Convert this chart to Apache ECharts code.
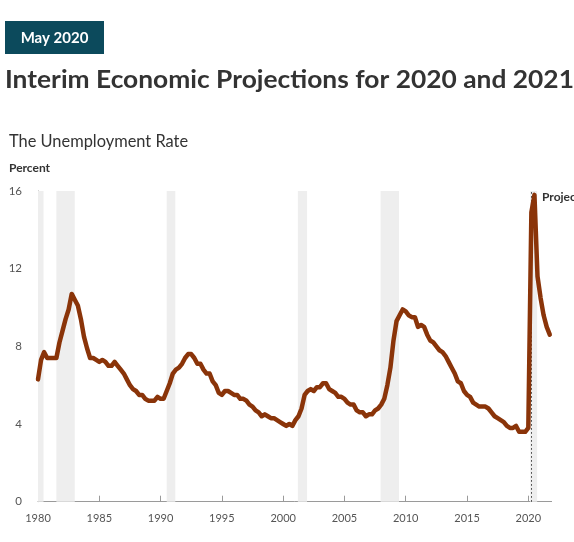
<!DOCTYPE html>
<html>
<head>
<meta charset="utf-8">
<script src="https://cdn.jsdelivr.net/npm/echarts@6/dist/echarts.min.js"></script>
<style>
html,body{margin:0;padding:0;background:#fff;}
#chart{width:574px;height:542px;}
</style>
</head>
<body>
<div id="chart"></div>
<script>
// Quarterly unemployment rate, percent, starting 1980 Q1
const startYear = 1980;
const historical = [
  6.3, 7.3, 7.7, 7.4,   // 1980
  7.4, 7.4, 7.4, 8.2,   // 1981
  8.8, 9.4, 9.9, 10.7,  // 1982
  10.4, 10.1, 9.4, 8.5, // 1983
  7.9, 7.4, 7.4, 7.3,   // 1984
  7.2, 7.3, 7.2, 7.0,   // 1985
  7.0, 7.2, 7.0, 6.8,   // 1986
  6.6, 6.3, 6.0, 5.8,   // 1987
  5.7, 5.5, 5.5, 5.3,   // 1988
  5.2, 5.2, 5.2, 5.4,   // 1989
  5.3, 5.3, 5.7, 6.1,   // 1990
  6.6, 6.8, 6.9, 7.1,   // 1991
  7.4, 7.6, 7.6, 7.4,   // 1992
  7.1, 7.1, 6.8, 6.6,   // 1993
  6.6, 6.2, 6.0, 5.6,   // 1994
  5.5, 5.7, 5.7, 5.6,   // 1995
  5.5, 5.5, 5.3, 5.3,   // 1996
  5.2, 5.0, 4.9, 4.7,   // 1997
  4.6, 4.4, 4.5, 4.4,   // 1998
  4.3, 4.3, 4.2, 4.1,   // 1999
  4.0, 3.9, 4.0, 3.9,   // 2000
  4.2, 4.4, 4.8, 5.5,   // 2001
  5.7, 5.8, 5.7, 5.9,   // 2002
  5.9, 6.1, 6.1, 5.8,   // 2003
  5.7, 5.6, 5.4, 5.4,   // 2004
  5.3, 5.1, 5.0, 5.0,   // 2005
  4.7, 4.6, 4.6, 4.4,   // 2006
  4.5, 4.5, 4.7, 4.8,   // 2007
  5.0, 5.3, 6.0, 6.9,   // 2008
  8.3, 9.3, 9.6, 9.9,   // 2009
  9.8, 9.6, 9.5, 9.5,   // 2010
  9.0, 9.1, 9.0, 8.6,   // 2011
  8.3, 8.2, 8.0, 7.8,   // 2012
  7.7, 7.5, 7.2, 6.9,   // 2013
  6.6, 6.2, 6.1, 5.7,   // 2014
  5.5, 5.4, 5.1, 5.0,   // 2015
  4.9, 4.9, 4.9, 4.8,   // 2016
  4.6, 4.4, 4.3, 4.2,   // 2017
  4.1, 3.9, 3.8, 3.8,   // 2018
  3.9, 3.6, 3.6, 3.6,   // 2019
  3.8                   // 2020 Q1
];
// Projections, 2020 Q2 through 2021 Q4
const projection = [14.9, 15.8, 11.6, 10.5, 9.6, 9.0, 8.6];

// Recession periods (shaded), in fractional years
const recessions = [
  [1980.0, 1980.45],
  [1981.5, 1983.0],
  [1990.5, 1991.2],
  [2001.2, 2001.95],
  [2007.95, 2009.45],
  [2020.15, 2020.72]
];
const projectionStart = 2020.2;

const xTicks = [1980, 1985, 1990, 1995, 2000, 2005, 2010, 2015, 2020];

const rates = historical.concat(projection);
const seriesData = rates.map((v, i) => [startYear + i / 4, v]);

const FONT = 'Lato, "Open Sans", sans-serif';
const chart = echarts.init(document.getElementById('chart'), null, {renderer: 'canvas'});
chart.setOption({
  animation: false,
  backgroundColor: '#ffffff',
  grid: {left: 38, right: 22.4, top: 191, bottom: 40.3, containLabel: false},
  xAxis: {
    type: 'value',
    min: 1980,
    max: 2021.9,
    splitLine: {show: false},
    axisLine: {show: true, lineStyle: {color: '#9a9a9a', width: 1}},
    axisTick: {show: true, inside: true, length: 6, customValues: xTicks, lineStyle: {color: '#9a9a9a'}},
    axisLabel: {customValues: xTicks, color: '#555', fontSize: 11, fontFamily: FONT, margin: 11,
      formatter: v => String(v)}
  },
  yAxis: {
    type: 'value',
    min: 0,
    max: 16,
    interval: 4,
    splitLine: {show: false},
    axisLine: {show: true, lineStyle: {color: '#9a9a9a', width: 1}},
    axisTick: {show: true, inside: true, length: 5, lineStyle: {color: '#9a9a9a'}},
    axisLabel: {color: '#555', fontSize: 11.5, fontFamily: FONT, margin: 16}
  },
  series: [{
    type: 'line',
    data: seriesData,
    showSymbol: false,
    symbol: 'none',
    lineStyle: {color: '#8a3409', width: 4.5, cap: 'round', join: 'round'},
    z: 5,
    markArea: {
      silent: true,
      itemStyle: {color: '#eeeeee'},
      data: recessions.map(r => [{xAxis: r[0]}, {xAxis: r[1]}])
    },
    markLine: {
      silent: true,
      symbol: 'none',
      label: {show: false},
      lineStyle: {color: '#333', type: [1.5, 2.5], width: 1},
      data: [{xAxis: projectionStart}]
    }
  }],
  graphic: [
    {type: 'rect', left: 5, top: 21, shape: {width: 99, height: 33}, style: {fill: '#0c4a5c'}},
    {type: 'text', x: 54.5, y: 38, style: {text: 'May 2020', fill: '#ffffff', font: 'bold 15px ' + FONT, textAlign: 'center', textVerticalAlign: 'middle'}},
    {type: 'text', x: 5, y: 80, scaleX: 1.054, style: {text: 'Interim Economic Projections for 2020 and 2021', fill: '#333333', font: 'bold 25px ' + FONT, textAlign: 'left', textVerticalAlign: 'middle'}},
    {type: 'text', x: 9, y: 142, style: {text: 'The Unemployment Rate', fill: '#333333', font: '16.4px ' + FONT, textAlign: 'left', textVerticalAlign: 'middle'}},
    {type: 'text', x: 9, y: 168, style: {text: 'Percent', fill: '#333333', font: 'bold 12px ' + FONT, textAlign: 'left', textVerticalAlign: 'middle'}},
    {type: 'text', x: 542, y: 197, style: {text: 'Projections', fill: '#333333', font: 'bold 12px ' + FONT, textAlign: 'left', textVerticalAlign: 'middle'}}
  ]
});
</script>
</body>
</html>
